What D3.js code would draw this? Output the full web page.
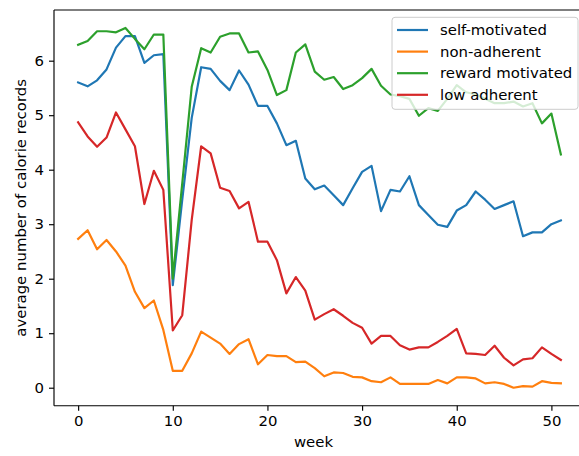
<!DOCTYPE html>
<html><head><meta charset="utf-8">
<script src="https://cdn.jsdelivr.net/npm/d3@7"></script>
<style>
html,body{margin:0;padding:0;background:#fff;}
svg{display:block;font-family:"DejaVu Sans",sans-serif;}
</style></head>
<body><svg id="chart" width="579" height="456"></svg>
<script>
const weeks = d3.range(0, 52);
const seriesNames = ["self-motivated", "non-adherent", "reward motivated", "low adherent"];
const seriesColors = ["#1f77b4", "#ff7f0e", "#2ca02c", "#d62728"];
const selfMotivated = [5.6,5.53,5.64,5.84,6.24,6.45,6.45,5.96,6.1,6.12,1.88,3.45,4.95,5.88,5.85,5.63,5.46,5.82,5.56,5.17,5.17,4.85,4.45,4.53,3.84,3.64,3.71,3.53,3.35,3.66,3.96,4.07,3.24,3.63,3.6,3.88,3.35,3.17,2.99,2.95,3.25,3.35,3.6,3.45,3.28,3.35,3.42,2.78,2.85,2.85,3.0,3.07];
const nonAdherent = [2.73,2.89,2.54,2.71,2.5,2.24,1.76,1.46,1.6,1.06,0.31,0.31,0.63,1.03,0.92,0.81,0.62,0.8,0.89,0.43,0.6,0.58,0.58,0.47,0.48,0.36,0.21,0.28,0.27,0.2,0.19,0.12,0.1,0.19,0.07,0.07,0.07,0.07,0.14,0.08,0.19,0.19,0.17,0.08,0.1,0.07,0.0,0.03,0.02,0.12,0.09,0.08];
const rewardMotivated = [6.29,6.36,6.54,6.54,6.52,6.6,6.4,6.21,6.48,6.48,2.0,3.75,5.52,6.23,6.15,6.44,6.5,6.5,6.15,6.17,5.83,5.37,5.46,6.15,6.3,5.8,5.65,5.7,5.48,5.55,5.68,5.85,5.54,5.38,5.35,5.3,4.99,5.13,5.08,5.3,5.55,5.42,5.38,5.3,5.22,5.22,5.25,5.16,5.22,4.85,5.03,4.28];
const lowAdherent = [4.87,4.61,4.42,4.59,5.05,4.74,4.43,3.37,3.98,3.63,1.05,1.33,3.08,4.43,4.3,3.67,3.61,3.29,3.41,2.68,2.68,2.34,1.73,2.03,1.78,1.25,1.35,1.44,1.32,1.19,1.1,0.81,0.95,0.95,0.78,0.7,0.74,0.74,0.84,0.95,1.08,0.63,0.62,0.6,0.77,0.55,0.41,0.52,0.54,0.74,0.62,0.51];
const xTicks = [0,10,20,30,40,50];
const yTicks = [0,1,2,3,4,5,6];
const xLabel = "week";
const yLabel = "average number of calorie records";

const allSeries = [selfMotivated, nonAdherent, rewardMotivated, lowAdherent];

const svg = d3.select("#chart");
const L = 54, R = 585, T = 10, B = 405.7;
const x = d3.scaleLinear().domain([-2.55, 53.55]).range([L, R]);
const y = d3.scaleLinear().domain([-0.33, 6.93]).range([B, T]);
const fs = "14.9px";

svg.append("defs").append("clipPath").attr("id","clip")
  .append("rect").attr("x",L).attr("y",T).attr("width",R-L).attr("height",B-T);

const line = d3.line().x((d,i)=>x(weeks[i])).y(d=>y(d));
const g = svg.append("g").attr("clip-path","url(#clip)");
allSeries.forEach((s,k)=>{
  g.append("path").datum(s).attr("d",line).attr("fill","none")
   .attr("stroke",seriesColors[k]).attr("stroke-width",2.2)
   .attr("stroke-linejoin","round").attr("stroke-linecap","square");
});

// axes
const xAxis = svg.append("g").attr("transform",`translate(0,${B})`)
  .call(d3.axisBottom(x).tickValues(xTicks).tickSize(5).tickPadding(5).tickFormat(d3.format("d")));
const yAxis = svg.append("g").attr("transform",`translate(${L},0)`)
  .call(d3.axisLeft(y).tickValues(yTicks).tickSize(5).tickPadding(5).tickFormat(d3.format("d")));
[xAxis,yAxis].forEach(a=>{
  a.select(".domain").remove();
  a.selectAll(".tick line").attr("stroke","#000").attr("stroke-width",1.15);
  a.selectAll(".tick text").attr("fill","#000").style("font-size",fs).style("font-family","DejaVu Sans, sans-serif");
});
// spines
const sp = svg.append("g").attr("stroke","#000").attr("stroke-width",1.15).attr("fill","none");
sp.append("line").attr("x1",L).attr("x2",L).attr("y1",T).attr("y2",B);
sp.append("line").attr("x1",L).attr("x2",R).attr("y1",B).attr("y2",B);
sp.append("line").attr("x1",L).attr("x2",R).attr("y1",T).attr("y2",T);
sp.append("line").attr("x1",R).attr("x2",R).attr("y1",T).attr("y2",B);

svg.append("text").attr("x",(L+R)/2 - 6).attr("y",447).attr("text-anchor","middle")
  .style("font-size",fs).text(xLabel);
svg.append("text").attr("transform",`translate(26,${(T+B)/2}) rotate(-90)`)
  .attr("text-anchor","middle").style("font-size",fs).text(yLabel);

// legend
const lg = svg.append("g");
lg.append("rect").attr("x",392).attr("y",17.3).attr("width",186).attr("height",92)
  .attr("rx",3).attr("fill","#fff").attr("fill-opacity",0.8).attr("stroke","#cccccc").attr("stroke-width",1);
seriesNames.forEach((n,k)=>{
  const yy = 30 + k*21.6;
  lg.append("line").attr("x1",397).attr("x2",428).attr("y1",yy).attr("y2",yy)
    .attr("stroke",seriesColors[k]).attr("stroke-width",2.2);
  lg.append("text").attr("x",440).attr("y",yy).attr("dy","0.35em")
    .style("font-size",fs).attr("fill","#000").text(n);
});
</script></body></html>
